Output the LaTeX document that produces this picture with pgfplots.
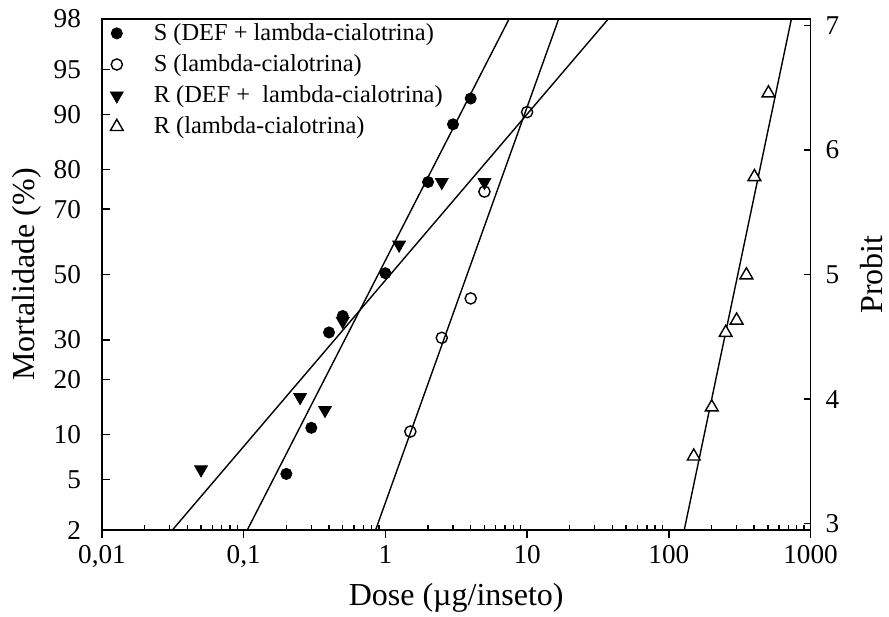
\documentclass[border=0pt]{standalone}
\usepackage{fontspec}
\setmainfont{Liberation Serif}
\usepackage{pgfplots}
\pgfplotsset{compat=1.18}
\usetikzlibrary{calc}

\pgfplotsset{
  probit/.style={
    scale only axis, width=354.25pt, height=255.5pt,
    ymin=2.95, ymax=7.05,
    axis line style={line width=0.75pt},
    tick style={line width=0.7pt, black},
    tick label style={font=\fontsize{13.6}{16}\selectfont},
    label style={font=\fontsize{16}{19}\selectfont},
  },
}

\begin{document}
\begin{tikzpicture}
\begin{axis}[probit,
  xmode=log, xmin=0.01, xmax=1000,
  xtick={0.01,0.1,1,10,100,1000},
  xticklabels={{0,01},{0,1},1,10,100,1000},
  xtick align=outside, xtick pos=bottom,
  major tick length=4pt,
  minor x tick style={draw=none},
  extra x ticks={0.02,0.03,0.04,0.05,0.06,0.07,0.08,0.09,
                 0.2,0.3,0.4,0.5,0.6,0.7,0.8,0.9,
                 2,3,4,5,6,7,8,9,20,30,40,50,60,70,80,90,
                 200,300,400,500,600,700,800,900},
  extra x tick labels={},
  extra x tick style={xtick align=inside, major tick length=2.5pt},
  % percentage ticks at their probit positions
  ytick={2.95,3.3548,3.7184,4.1584,4.4756,5,5.5244,5.8416,6.2816,6.6452,7.05},
  yticklabels={2,5,10,20,30,50,70,80,90,95,98},
  ytick align=inside, ytick pos=left,
  yticklabel style={xshift=-7pt},
  xlabel={Dose (µg/inseto)},
  xlabel style={at={(axis description cs:0.5,-0.133)}, anchor=center},
  ylabel={Mortalidade (\%)},
  ylabel style={at={(axis description cs:-0.106,0.5)}, anchor=center},
  legend style={at={(0,1)}, anchor=north west, xshift=4pt, yshift=0pt,
    draw=none, fill=none, font=\fontsize{12.2}{14}\selectfont,
    row sep=1.6pt, inner sep=0pt},
  legend cell align=left,
  legend image code/.code={\draw[#1] plot coordinates {(0pt,0pt)}; \path[draw=none, fill=none] (0pt,0pt) -- (16.5pt,0pt);},
]
\coordinate (sw) at (rel axis cs:0,0);
\coordinate (ne) at (rel axis cs:1,1);

% fitted probit lines
\addplot[black, line width=0.7pt, forget plot] coordinates {(0.106,2.95) (7.46,7.05)};
\addplot[black, line width=0.7pt, forget plot] coordinates {(0.0314,2.95) (37.4,7.05)};
\addplot[black, line width=0.7pt, forget plot] coordinates {(0.853,2.95) (16.7,7.05)};
\addplot[black, line width=0.7pt, forget plot] coordinates {(128.5,2.95) (733,7.05)};

% S (DEF + lambda-cialotrina)
\addplot[only marks, mark=*, mark size=2.8pt, mark options={fill=black, draw=black}]
  coordinates {(0.2,3.40) (0.3,3.77) (0.4,4.535) (0.5,4.667) (1,5.01) (2,5.742) (3,6.205) (4,6.412)};
% S (lambda-cialotrina)
\addplot[only marks, mark=o, mark size=2.8pt, mark options={fill=white, draw=black, line width=0.7pt}]
  coordinates {(1.5,3.74) (2.5,4.492) (4,4.808) (5,5.665) (10,6.303)};
% R (DEF + lambda-cialotrina)
\addplot[only marks, mark=triangle*, mark size=3.7pt, mark options={rotate=180, fill=black, draw=black}]
  coordinates {(0.05,3.435) (0.25,4.015) (0.375,3.912) (0.5,4.625) (1.25,5.238) (2.5,5.741) (5,5.741)};
% R (lambda-cialotrina)
\addplot[only marks, mark=triangle*, mark size=3.7pt, mark options={fill=white, draw=black, line width=0.7pt}]
  coordinates {(150,3.541) (201,3.935) (252,4.533) (301,4.632) (353,4.995) (402,5.783) (505,6.455)};

\legend{S (DEF + lambda-cialotrina), S (lambda-cialotrina), R (DEF +\ \ lambda-cialotrina), R (lambda-cialotrina)}
\end{axis}

\begin{axis}[probit,
  axis x line=none, axis y line*=right,
  xmin=0, xmax=1,
  ytick={3,4,5,6,7}, yticklabels={3,4,5,6,7},
  ytick align=inside, major tick length=3.5pt,
  yticklabel style={xshift=4pt},
  ylabel={Probit},
  ylabel style={at={(axis description cs:1.086,0.5)}, anchor=center},
]
\end{axis}

\pgfresetboundingbox
\path[use as bounding box] ($(sw)+(-51pt,-43pt)$) rectangle ($(ne)+(39.25pt,9.5pt)$);
\end{tikzpicture}
\end{document}
